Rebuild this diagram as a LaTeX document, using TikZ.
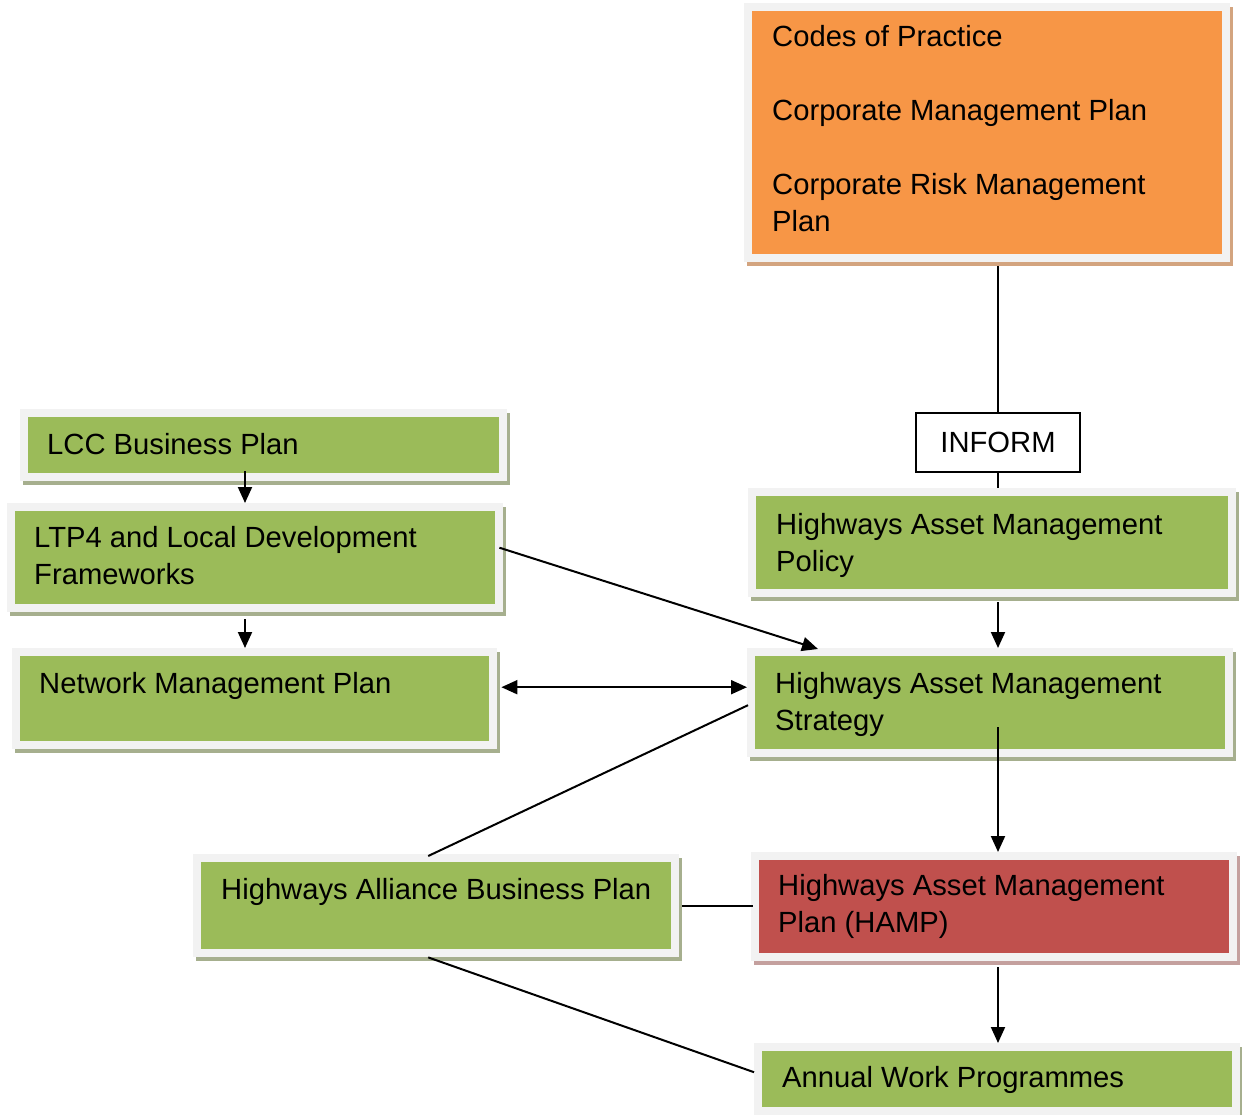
\documentclass[tikz,border=0pt]{standalone}
\usepackage{fontspec}
\setmainfont{Liberation Sans}
\usetikzlibrary{shadows,arrows.meta}
\definecolor{hgreen}{HTML}{9BBB59}
\definecolor{horange}{HTML}{F79646}
\definecolor{hred}{HTML}{C0504D}
\definecolor{hframe}{HTML}{F2F2F2}
\definecolor{shgreen}{HTML}{A6AF8E}
\definecolor{shorange}{HTML}{D3A47F}
\definecolor{shred}{HTML}{C4A09E}
\newcommand{\vlines}[1]{\vtop{\baselineskip=37pt #1}}
\begin{document}
\begin{tikzpicture}[x=1pt,y=-1pt,
  every node/.style={font=\fontsize{29.2}{37}\selectfont},
  boxframe/.style 2 args={rectangle, inner sep=0pt, anchor=north west, fill=hframe,
    drop shadow={shadow xshift=3pt, shadow yshift=-4pt, fill=#2, opacity=1},
    path picture={\fill[#1] ([shift={(8pt,-8pt)}]path picture bounding box.north west)
      rectangle ([shift={(-8pt,8pt)}]path picture bounding box.south east);}},
  gbox/.style={boxframe={hgreen}{shgreen}},
  txt/.style={anchor=base west, inner sep=0pt},
  ln/.style={line width=2pt, black},
  arr/.style={ln, -{Triangle[length=16pt,width=14pt]}},
  darr/.style={ln, {Triangle[length=16pt,width=14pt]}-{Triangle[length=16pt,width=14pt]}}
]
\useasboundingbox (0,0) rectangle (1242,1115);
\fill[white] (0,0) rectangle (1242,1115);

% boxes
\node[boxframe={horange}{shorange}, minimum width=486pt, minimum height=259pt] (orange) at (744,3) {};
\node[gbox, minimum width=487pt, minimum height=72pt] (lcc) at (20,409) {};
\node[gbox, minimum width=496pt, minimum height=109pt] (ltp) at (7,503) {};
\node[gbox, minimum width=485pt, minimum height=101pt] (net) at (12,648) {};
\node[gbox, minimum width=488pt, minimum height=109pt] (pol) at (748,488) {};
\node[gbox, minimum width=486pt, minimum height=109pt] (str) at (747,648) {};
\node[gbox, minimum width=486pt, minimum height=103pt] (all) at (193,854) {};
\node[boxframe={hred}{shred}, minimum width=486pt, minimum height=109pt] (hamp) at (751,852) {};
\node[gbox, minimum width=486pt, minimum height=72pt] (ann) at (754,1043) {};
\node[draw, line width=1.5pt, fill=white, minimum width=164pt, minimum height=59pt, inner sep=0pt] (inform) at (998,442.5) {INFORM};

% texts
\node[txt] (orangeT) at (772,47) {\vlines{\hbox{Codes of Practice}\hbox{}\hbox{Corporate Management Plan}\hbox{}\hbox{Corporate Risk Management}\hbox{Plan}}};
\node[txt] (lccT) at (47,454) {LCC Business Plan};
\node[txt] (ltpT) at (34,547) {\vlines{\hbox{LTP4 and Local Development}\hbox{Frameworks}}};
\node[txt] (netT) at (39,693) {Network Management Plan};
\node[txt] (polT) at (776,534) {\vlines{\hbox{Highways Asset Management}\hbox{Policy}}};
\node[txt] (strT) at (775,693) {\vlines{\hbox{Highways Asset Management}\hbox{Strategy}}};
\node[txt] (allT) at (221,899) {Highways Alliance Business Plan};
\node[txt] (hampT) at (778,895) {\vlines{\hbox{Highways Asset Management}\hbox{Plan (HAMP)}}};
\node[txt] (annT) at (782,1087) {Annual Work Programmes};

% connectors
\draw[ln] ([yshift=-4pt]orange.south -| inform.north) -- (inform.north);
\draw[ln] (inform.south) -- (inform.south |- pol.north);
\draw[arr] ([yshift=-5pt]pol.south -| inform.south) -- (str.north -| inform.south);
\draw[arr] ([xshift=225pt,yshift=10pt]lcc.south west) -- ([xshift=238pt]ltp.north west);
\draw[arr] ([xshift=238pt,yshift=-7pt]ltp.south west) -- ([xshift=233pt]net.north west);
\draw[arr] ([xshift=-4pt,yshift=10pt]ltp.east) -- ([xshift=71pt,yshift=-1pt]str.north west);
\draw[darr] ([xshift=4pt,yshift=11.5pt]net.east) -- ([yshift=15.5pt]str.west);
\draw[ln] ([xshift=1pt,yshift=-2.5pt]str.west) -- ([xshift=-8pt,yshift=-2pt]all.north);
\draw[arr] ([yshift=30pt]str.south -| inform.south) -- (hamp.north -| inform.south);
\draw[ln] ([xshift=3pt]all.east) -- ([xshift=2pt]hamp.west |- all.east);
\draw[arr] ([yshift=-6pt]hamp.south -| inform.south) -- (ann.north -| inform.south);
\draw[ln] ([xshift=-8pt]all.south) -- ([yshift=7pt]ann.west);
\end{tikzpicture}
\end{document}
